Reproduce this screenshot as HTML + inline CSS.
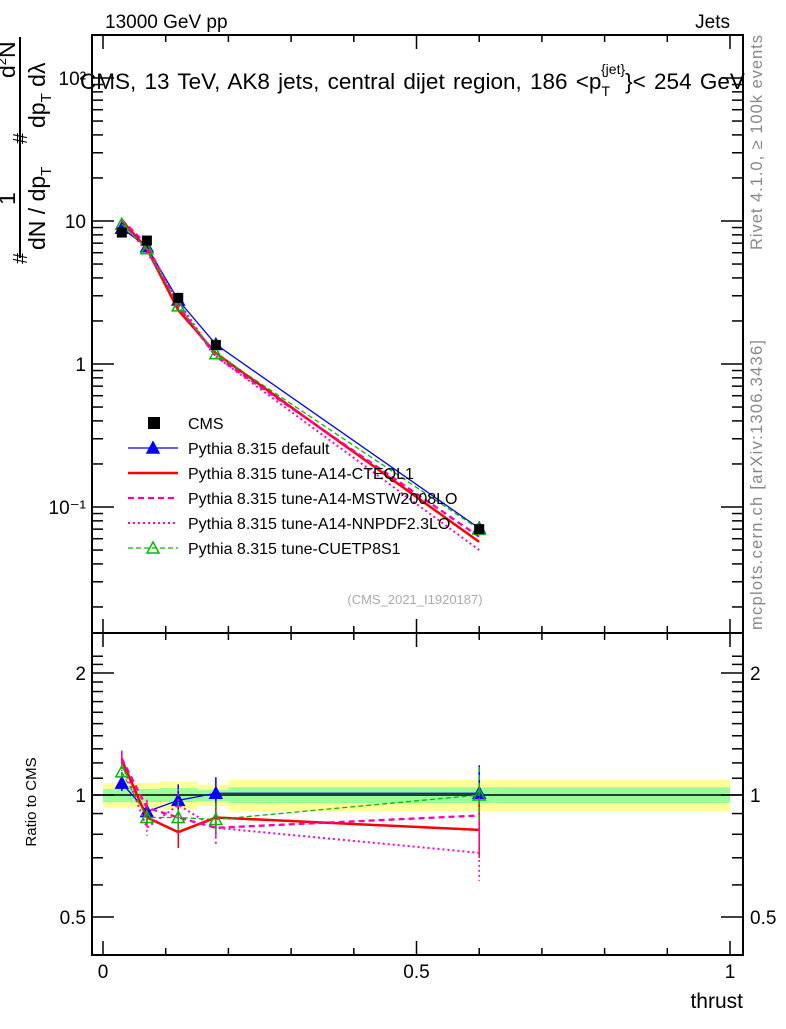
<!DOCTYPE html>
<html><head><meta charset="utf-8"><style>
body{margin:0;background:#fff;}
svg{font-family:"Liberation Sans",sans-serif;}
</style></head><body>
<svg id="c" width="786" height="1024" viewBox="0 0 786 1024" xmlns="http://www.w3.org/2000/svg">
<text x="105" y="28" font-size="19">13000 GeV pp</text>
<text x="730" y="28" font-size="19" text-anchor="end">Jets</text>
<text x="80" y="89" font-size="22.5" word-spacing="2">CMS, 13 TeV, AK8 jets, central dijet region, 186 &lt;p<tspan font-size="14" dy="7">T</tspan><tspan font-size="14" dy="-22" dx="-9">{jet}</tspan><tspan dy="15">}&lt; 254 GeV</tspan></text>
<text transform="translate(762,250) rotate(-90)" font-size="16.5" fill="#888" textLength="215">Rivet 4.1.0, ≥ 100k events</text>
<text transform="translate(762,630) rotate(-90)" font-size="16.5" fill="#888" textLength="290">mcplots.cern.ch [arXiv:1306.3436]</text>
<text x="415" y="604" font-size="13" fill="#aaa" text-anchor="middle">(CMS_2021_I1920187)</text>
<g transform="rotate(-90)" font-size="23">
<text x="-205" y="15">1</text>
<text x="-78" y="15">d<tspan font-size="13" dy="-9">2</tspan><tspan dy="9">N</tspan></text>
<line x1="-258" y1="20" x2="-37" y2="20" stroke="#000" stroke-width="2"/>
<text x="-264" y="27" font-size="20">#</text>
<text x="-250" y="45">dN / dp<tspan font-size="15" dy="6">T</tspan></text>
<text x="-144" y="27" font-size="20">#</text>
<text x="-128" y="45">dp<tspan font-size="15" dy="6">T</tspan><tspan dy="-6"> dλ</tspan></text>
</g>
<text x="24" y="790" font-size="15" transform="rotate(-90 36 790)" text-anchor="middle">Ratio to CMS</text>
<text x="743" y="1008" font-size="21" text-anchor="end">thrust</text>
<g id="plot"></g>
</svg>
<script>
const xs=[0.03,0.07,0.12,0.18,0.6];
const cms=[8.3,7.3,2.9,1.36,0.07];
const pDefault=[8.9,6.6,2.8,1.37,0.071];
const pCteq=[10.1,6.4,2.38,1.19,0.057];
const pMstw=[10.2,6.8,2.55,1.13,0.062];
const pNnpdf=[10.0,6.06,2.74,1.13,0.050];
const pCuet=[9.5,6.4,2.55,1.18,0.07];
const rDefault=[1.07,0.91,0.97,1.01,1.01];
const rCteq=[1.22,0.88,0.81,0.88,0.82];
const rMstw=[1.23,0.93,0.88,0.83,0.89];
const rNnpdf=[1.2,0.83,0.945,0.83,0.72];
const rCuet=[1.14,0.88,0.88,0.87,1.0];
const binEdges=[0,0.05,0.09,0.15,0.2,1.0];
const yelLo=[0.93,0.93,0.92,0.94,0.91];
const yelHi=[1.07,1.07,1.08,1.06,1.09];
const grnLo=[0.96,0.96,0.96,0.965,0.955];
const grnHi=[1.035,1.035,1.04,1.03,1.045];
const xTicks=[0,0.5,1];
const xTickLabels=['0','0.5','1'];
const mainTicks=[0.1,1,10,100];
const mainTickLabels=['10⁻¹','1','10','10²'];
const ratioTicks=[0.5,1,2];
const ratioTickLabels=['0.5','1','2'];

const L=92,R=743,T=35,M=633,B=955;
const X=v=>103+627*v;
const Y=v=>364-143*Math.log10(v);
const YR=v=>795-405.3*Math.log10(v);
const NS='http://www.w3.org/2000/svg';
const g=document.getElementById('plot');
function mk(t,a,p){const e=document.createElementNS(NS,t);for(const k in a)e.setAttribute(k,a[k]);(p||g).appendChild(e);return e;}

for(let i=0;i<yelLo.length;i++){
 const b=mk('rect',{x:X(binEdges[i]),y:YR(yelHi[i]),width:X(binEdges[i+1])-X(binEdges[i]),height:YR(yelLo[i])-YR(yelHi[i]),fill:'#ffff99'});
 
 
 const c=mk('rect',{x:X(binEdges[i]),y:YR(grnHi[i]),width:X(binEdges[i+1])-X(binEdges[i]),height:YR(grnLo[i])-YR(grnHi[i]),fill:'#99ff99'});
 
 
}
mk('line',{x1:L,y1:YR(1),x2:R,y2:YR(1),stroke:'#000','stroke-width':1.5});

const f1=mk('rect',{x:L,y:T,width:R-L,height:M-T,fill:'none',stroke:'#000','stroke-width':2});


const f2=mk('rect',{x:L,y:M,width:R-L,height:B-M,fill:'none',stroke:'#000','stroke-width':2});



for(let v=0;v<=1.0001;v+=0.1){
 const big=Math.abs(v*2-Math.round(v*2))<1e-6;const l=big?14:7;
 mk('line',{x1:X(v),y1:M,x2:X(v),y2:M-l,stroke:'#000','stroke-width':1.5});
 mk('line',{x1:X(v),y1:T,x2:X(v),y2:T+l,stroke:'#000','stroke-width':1.5});
 mk('line',{x1:X(v),y1:B,x2:X(v),y2:B-l,stroke:'#000','stroke-width':1.5});
 mk('line',{x1:X(v),y1:M,x2:X(v),y2:M+l,stroke:'#000','stroke-width':1.5});
}
xTicks.forEach((v,i)=>{const t=mk('text',{x:X(v),y:978,'font-size':19,'text-anchor':'middle'});t.textContent=xTickLabels[i];
 
 });
for(let d=-2;d<=2;d++)for(let k=1;k<10;k++){const v=k*Math.pow(10,d);const y=Y(v);if(y<T||y>M)continue;
 const l=k==1?22:11;
 mk('line',{x1:L,y1:y,x2:L+l,y2:y,stroke:'#000','stroke-width':1.5});
 mk('line',{x1:R,y1:y,x2:R-l,y2:y,stroke:'#000','stroke-width':1.5});}
mainTicks.forEach((v,i)=>{const t=mk('text',{x:86,y:Y(v)+7,'font-size':19,'text-anchor':'end'});t.textContent=mainTickLabels[i];
 
 });
for(let v=0.4;v<=2.3;v+=0.1){const y=YR(v);if(y<M||y>B)continue;
 const big=[0.5,1,2].some(q=>Math.abs(q-v)<1e-6);const l=big?22:11;
 mk('line',{x1:L,y1:y,x2:L+l,y2:y,stroke:'#000','stroke-width':1.5});
 mk('line',{x1:R,y1:y,x2:R-l,y2:y,stroke:'#000','stroke-width':1.5});}
ratioTicks.forEach((v,i)=>{const t=mk('text',{x:86,y:YR(v)+7,'font-size':19,'text-anchor':'end'});t.textContent=ratioTickLabels[i];
 
 
 const t2=mk('text',{x:750,y:YR(v)+7,'font-size':19});t2.textContent=ratioTickLabels[i];
 
 });

const series=[
 {n:'pythia-default',main:pDefault,rat:rDefault,c:'#0000ff',w:1.3,d:'',m:'tri'},
 {n:'pythia-cteql1',main:pCteq,rat:rCteq,c:'#ff0000',w:2.5,d:'',m:''},
 {n:'pythia-mstw2008lo',main:pMstw,rat:rMstw,c:'#ff00aa',w:2.3,d:'6,4',m:''},
 {n:'pythia-nnpdf23lo',main:pNnpdf,rat:rNnpdf,c:'#ff00cc',w:2,d:'2,3',m:''},
 {n:'pythia-cuetp8s1',main:pCuet,rat:rCuet,c:'#00bb00',w:1.3,d:'5,3',m:'otri'}];
function tri(x,y,c,open,p){const e=mk('polygon',{points:`${x},${y-6} ${x-6},${y+5} ${x+6},${y+5}`,fill:open?'none':c,stroke:c,'stroke-width':1.5},p);return e;}
series.forEach(s=>{
 const gg=mk('g',{});
 
 
 const pm=xs.map((x,i)=>X(x)+','+Y(s.main[i])).join(' ');
 mk('polyline',{points:pm,fill:'none',stroke:s.c,'stroke-width':s.w,'stroke-dasharray':s.d},gg);
 const pr=xs.map((x,i)=>X(x)+','+YR(s.rat[i])).join(' ');
 mk('polyline',{points:pr,fill:'none',stroke:s.c,'stroke-width':s.w,'stroke-dasharray':s.d},gg);
 xs.forEach((x,i)=>{const yr=YR(s.rat[i]);const e=i==4?28:i==2||i==3?16:8;
  mk('line',{x1:X(x),y1:yr-e,x2:X(x),y2:yr+e,stroke:s.c,'stroke-width':1.5,'stroke-dasharray':s.d},gg);
  if(s.m){tri(X(x),Y(s.main[i]),s.c,s.m=='otri',gg);tri(X(x),yr,s.c,s.m=='otri',gg);}});
});
xs.forEach((x,i)=>{const r=mk('rect',{x:X(x)-5,y:Y(cms[i])-5,width:10,height:10,fill:'#000'});
 
 });

const leg=[['CMS','#000','',0,'sq'],['Pythia 8.315 default','#0000ff','',1.3,'tri'],['Pythia 8.315 tune-A14-CTEQL1','#ff0000','',2.5,''],
['Pythia 8.315 tune-A14-MSTW2008LO','#ff00aa','6,4',2.3,''],['Pythia 8.315 tune-A14-NNPDF2.3LO','#ff00cc','2,3',2,''],['Pythia 8.315 tune-CUETP8S1','#00bb00','5,3',1.3,'otri']];
leg.forEach((l,i)=>{const y=423+25*i;const gg=mk('g',{});
 
 
 if(l[4]=='sq')mk('rect',{x:148,y:y-6,width:12,height:12,fill:'#000'},gg);
 else{mk('line',{x1:128,y1:y,x2:178,y2:y,stroke:l[1],'stroke-width':l[3],'stroke-dasharray':l[2]},gg);
  if(l[4])tri(153,y,l[1],l[4]=='otri',gg);}
 const t=mk('text',{x:188,y:y+6,'font-size':16},gg);t.textContent=l[0];});
</script>
</body></html>
